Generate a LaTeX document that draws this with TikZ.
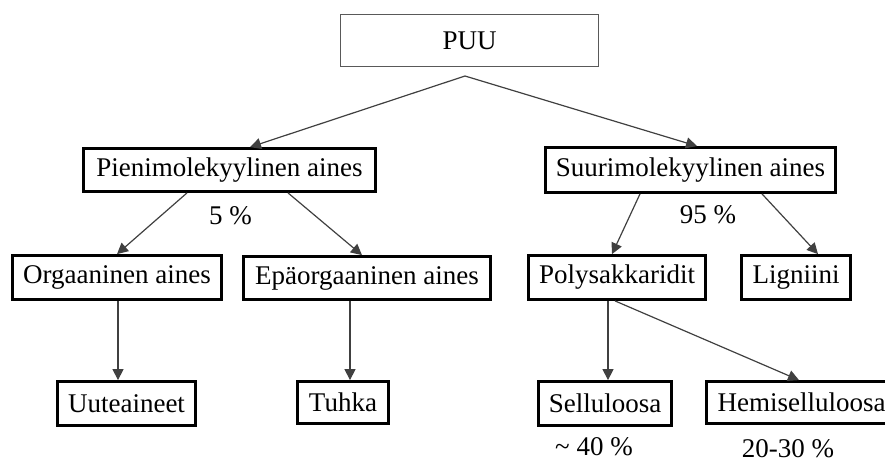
\documentclass[tikz,border=0pt]{standalone}
\usepackage{fontspec}
\setmainfont{Liberation Serif}
\usetikzlibrary{arrows.meta,calc}
\begin{document}
\begin{tikzpicture}[x=1pt,y=-1pt,
  txt/.style={font=\fontsize{27}{31}\selectfont},
  thickbox/.style={txt,draw=black,line width=2.8pt,inner sep=0pt},
  thinbox/.style={txt,draw=black!65,line width=1.3pt,inner sep=0pt},
  conn/.style={draw=black!75,line width=1.2pt,-{Triangle[length=11pt,width=11pt]}},
  pct/.style={txt,anchor=base,inner sep=0pt}]
\useasboundingbox (0,0) rectangle (885,464);
% boxes
\node[thinbox,minimum width=258pt,minimum height=52pt] (puu) at (469.5,40.5) {PUU};
\node[thickbox,minimum width=292pt,minimum height=43pt] (pien) at (229.5,170) {Pienimolekyylinen aines};
\node[thickbox,minimum width=290pt,minimum height=45pt] (suur) at (690.5,170) {Suurimolekyylinen aines};
\node[thickbox,minimum width=209pt,minimum height=44pt] (org) at (117,277.5) {Orgaaninen aines};
\node[thickbox,minimum width=247pt,minimum height=43pt] (epa) at (367,278) {Epäorgaaninen aines};
\node[thickbox,minimum width=177pt,minimum height=44pt] (poly) at (617,277.5) {Polysakkaridit};
\node[thickbox,minimum width=109pt,minimum height=44pt] (lig) at (796,277.5) {Ligniini};
\node[thickbox,minimum width=138pt,minimum height=44pt] (uute) at (126.5,403.5) {Uuteaineet};
\node[thickbox,minimum width=91pt,minimum height=42pt] (tuhka) at (343,402.5) {Tuhka};
\node[thickbox,minimum width=133pt,minimum height=44pt] (sell) at (605,403.5) {Selluloosa};
\node[thickbox,minimum width=190pt,minimum height=42pt] (hemi) at (801.5,402.5) {Hemiselluloosa};
% percentages
\node[pct] (p5) at (230.5,224) {5 \%};
\node[pct] (p95) at (708,223) {95 \%};
\node[pct] (p40) at (594,455) {\textasciitilde\ 40 \%};
\node[pct] (p2030) at (788,457) {20-30 \%};
% connectors
\coordinate (apex) at (465,76);
\draw[conn] (apex) -- ([xshift=20.5pt]pien.north);
\draw[conn] (apex) -- ([xshift=6.5pt]suur.north);
\draw[conn] ([xshift=-42.5pt]pien.south) -- (org.north);
\draw[conn] ([xshift=58.5pt]pien.south) -- ([xshift=-5pt]epa.north);
\draw[conn] ([xshift=-50.5pt]suur.south) -- ([xshift=-5pt]poly.north);
\draw[conn] ([xshift=71.5pt]suur.south) -- ([xshift=22pt]lig.north);
\draw[conn] ([xshift=1pt]org.south) -- ([xshift=1pt]org.south |- uute.north);
\draw[conn] ([xshift=-17pt]epa.south) -- ([xshift=-17pt]epa.south |- tuhka.north);
\draw[conn] ([xshift=-9pt]poly.south) -- ([xshift=-9pt]poly.south |- sell.north);
\draw[conn] ([xshift=-2pt]poly.south) -- ([xshift=-2.5pt]hemi.north);
\end{tikzpicture}
\end{document}
